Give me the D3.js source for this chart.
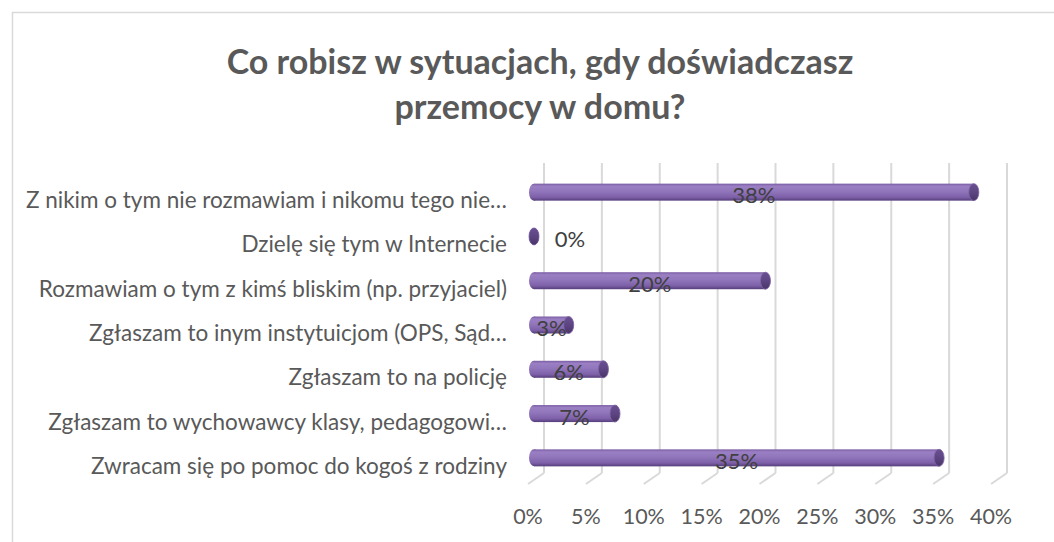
<!DOCTYPE html>
<html>
<head>
<meta charset="utf-8">
<script src="https://cdn.jsdelivr.net/npm/d3@7"></script>
<style>
  body { margin: 0; background: #fff; }
  svg { display: block; font-family: Lato, "Open Sans", sans-serif; }
  .cat { fill: #595959; font-size: 22.5px; }
  .tick { fill: #595959; font-size: 21.5px; }
  .val { fill: #404040; font-size: 22px; }
  .title { fill: #595959; font-size: 34px; font-weight: bold; }
</style>
</head>
<body>
<script>
// chart data (top to bottom as shown)
const categories = [
  "Z nikim o tym nie rozmawiam i nikomu tego nie…",
  "Dzielę się tym w Internecie",
  "Rozmawiam o tym z kimś bliskim (np. przyjaciel)",
  "Zgłaszam to inym instytuicjom (OPS, Sąd…",
  "Zgłaszam to na policję",
  "Zgłaszam to wychowawcy klasy, pedagogowi…",
  "Zwracam się po pomoc do kogoś z rodziny"
];
const values = [0.38, 0, 0.20, 0.03, 0.06, 0.07, 0.35];
const tickValues = [0, 0.05, 0.10, 0.15, 0.20, 0.25, 0.30, 0.35, 0.40];
const titleLines = ["Co robisz w sytuacjach, gdy doświadczasz", "przemocy w domu?"];

const W = 1054, H = 542;
const svg = d3.select("body").append("svg").attr("width", W).attr("height", H);

// 3d depth: the back wall is shifted right/up compared to the floor front
const depthX = 16, depthY = 11;
const barShiftX = -10, barShiftY = -9;

// chart border
svg.append("rect")
  .attr("x", 12.5).attr("y", 12.5)
  .attr("width", W + 20).attr("height", H + 20)
  .attr("fill", "none").attr("stroke", "#d9d9d9").attr("stroke-width", 1.5);

// title
svg.append("text").attr("class", "title")
  .attr("text-anchor", "middle")
  .selectAll("tspan").data(titleLines).join("tspan")
  .attr("x", 540)
  .attr("y", (d, i) => 74 + i * 45)
  .text(d => d);

const x = d3.scaleLinear().domain([0, 0.4]).range([544, 1007]);
const y = d3.scaleBand().domain(categories).range([179, 489]);
const wallTop = 163, wallBottom = 473;

// back wall gridlines
svg.append("g").selectAll("line").data(tickValues).join("line")
  .attr("x1", d => x(d)).attr("x2", d => x(d))
  .attr("y1", wallTop).attr("y2", wallBottom)
  .attr("stroke", "#d9d9d9").attr("stroke-width", 2);

// floor lines
svg.append("g").selectAll("line").data(tickValues).join("line")
  .attr("x1", d => x(d)).attr("x2", d => x(d) - depthX)
  .attr("y1", wallBottom).attr("y2", wallBottom + depthY)
  .attr("stroke", "#d9d9d9").attr("stroke-width", 2);

// x tick labels (front edge of floor)
svg.append("g").selectAll("text").data(tickValues).join("text")
  .attr("class", "tick")
  .attr("x", d => x(d) - depthX)
  .attr("y", 524)
  .attr("text-anchor", "middle")
  .text(d3.format(".0%"));

// category labels
svg.append("g").selectAll("text").data(categories).join("text")
  .attr("class", "cat")
  .attr("x", 507)
  .attr("y", d => y(d) + y.bandwidth() / 2 + 7)
  .attr("text-anchor", "end")
  .text(d => d);

// cylinder gradients
const defs = svg.append("defs");
const body = defs.append("linearGradient").attr("id", "cyl")
  .attr("x1", 0).attr("y1", 0).attr("x2", 0).attr("y2", 1);
body.selectAll("stop").data([
  [0, "#7a5ca3"], [0.15, "#9a7fc3"], [0.45, "#9276bc"], [0.8, "#7d60a8"], [1, "#553d7a"]
]).join("stop").attr("offset", d => d[0]).attr("stop-color", d => d[1]);
const cap = defs.append("linearGradient").attr("id", "cap")
  .attr("x1", 0).attr("y1", 0).attr("x2", 0).attr("y2", 1);
cap.selectAll("stop").data([
  [0, "#6a4f91"], [0.5, "#5d4583"], [1, "#4a3568"]
]).join("stop").attr("offset", d => d[0]).attr("stop-color", d => d[1]);

const barH = 17, capRx = 5;
const bars = svg.append("g").selectAll("g").data(categories).join("g")
  .attr("transform", (d, i) => `translate(0,${y(d) + y.bandwidth() / 2 + barShiftY})`);

bars.append("rect")
  .attr("x", x(0) + barShiftX)
  .attr("y", -barH / 2)
  .attr("width", (d, i) => x(values[i]) - x(0))
  .attr("height", barH)
  .attr("fill", "url(#cyl)");
bars.append("ellipse")
  .attr("cx", x(0) + barShiftX)
  .attr("cy", 0).attr("rx", capRx).attr("ry", barH / 2)
  .attr("fill", (d, i) => values[i] > 0 ? "url(#cyl)" : "url(#cap)");
bars.append("ellipse")
  .attr("cx", (d, i) => x(values[i]) + barShiftX)
  .attr("cy", 0).attr("rx", capRx).attr("ry", barH / 2)
  .attr("fill", "url(#cap)")
  .attr("stroke", "#7d63a3").attr("stroke-width", 0.8);

// value labels: centred on the bar, beside it when the bar is empty
bars.append("text")
  .attr("class", "val")
  .attr("x", (d, i) => values[i] > 0 ? (x(0) + x(values[i])) / 2 + barShiftX : x(values[i]) + barShiftX + 36)
  .attr("y", 11)
  .attr("text-anchor", "middle")
  .text((d, i) => d3.format(".0%")(values[i]));
</script>
</body>
</html>
